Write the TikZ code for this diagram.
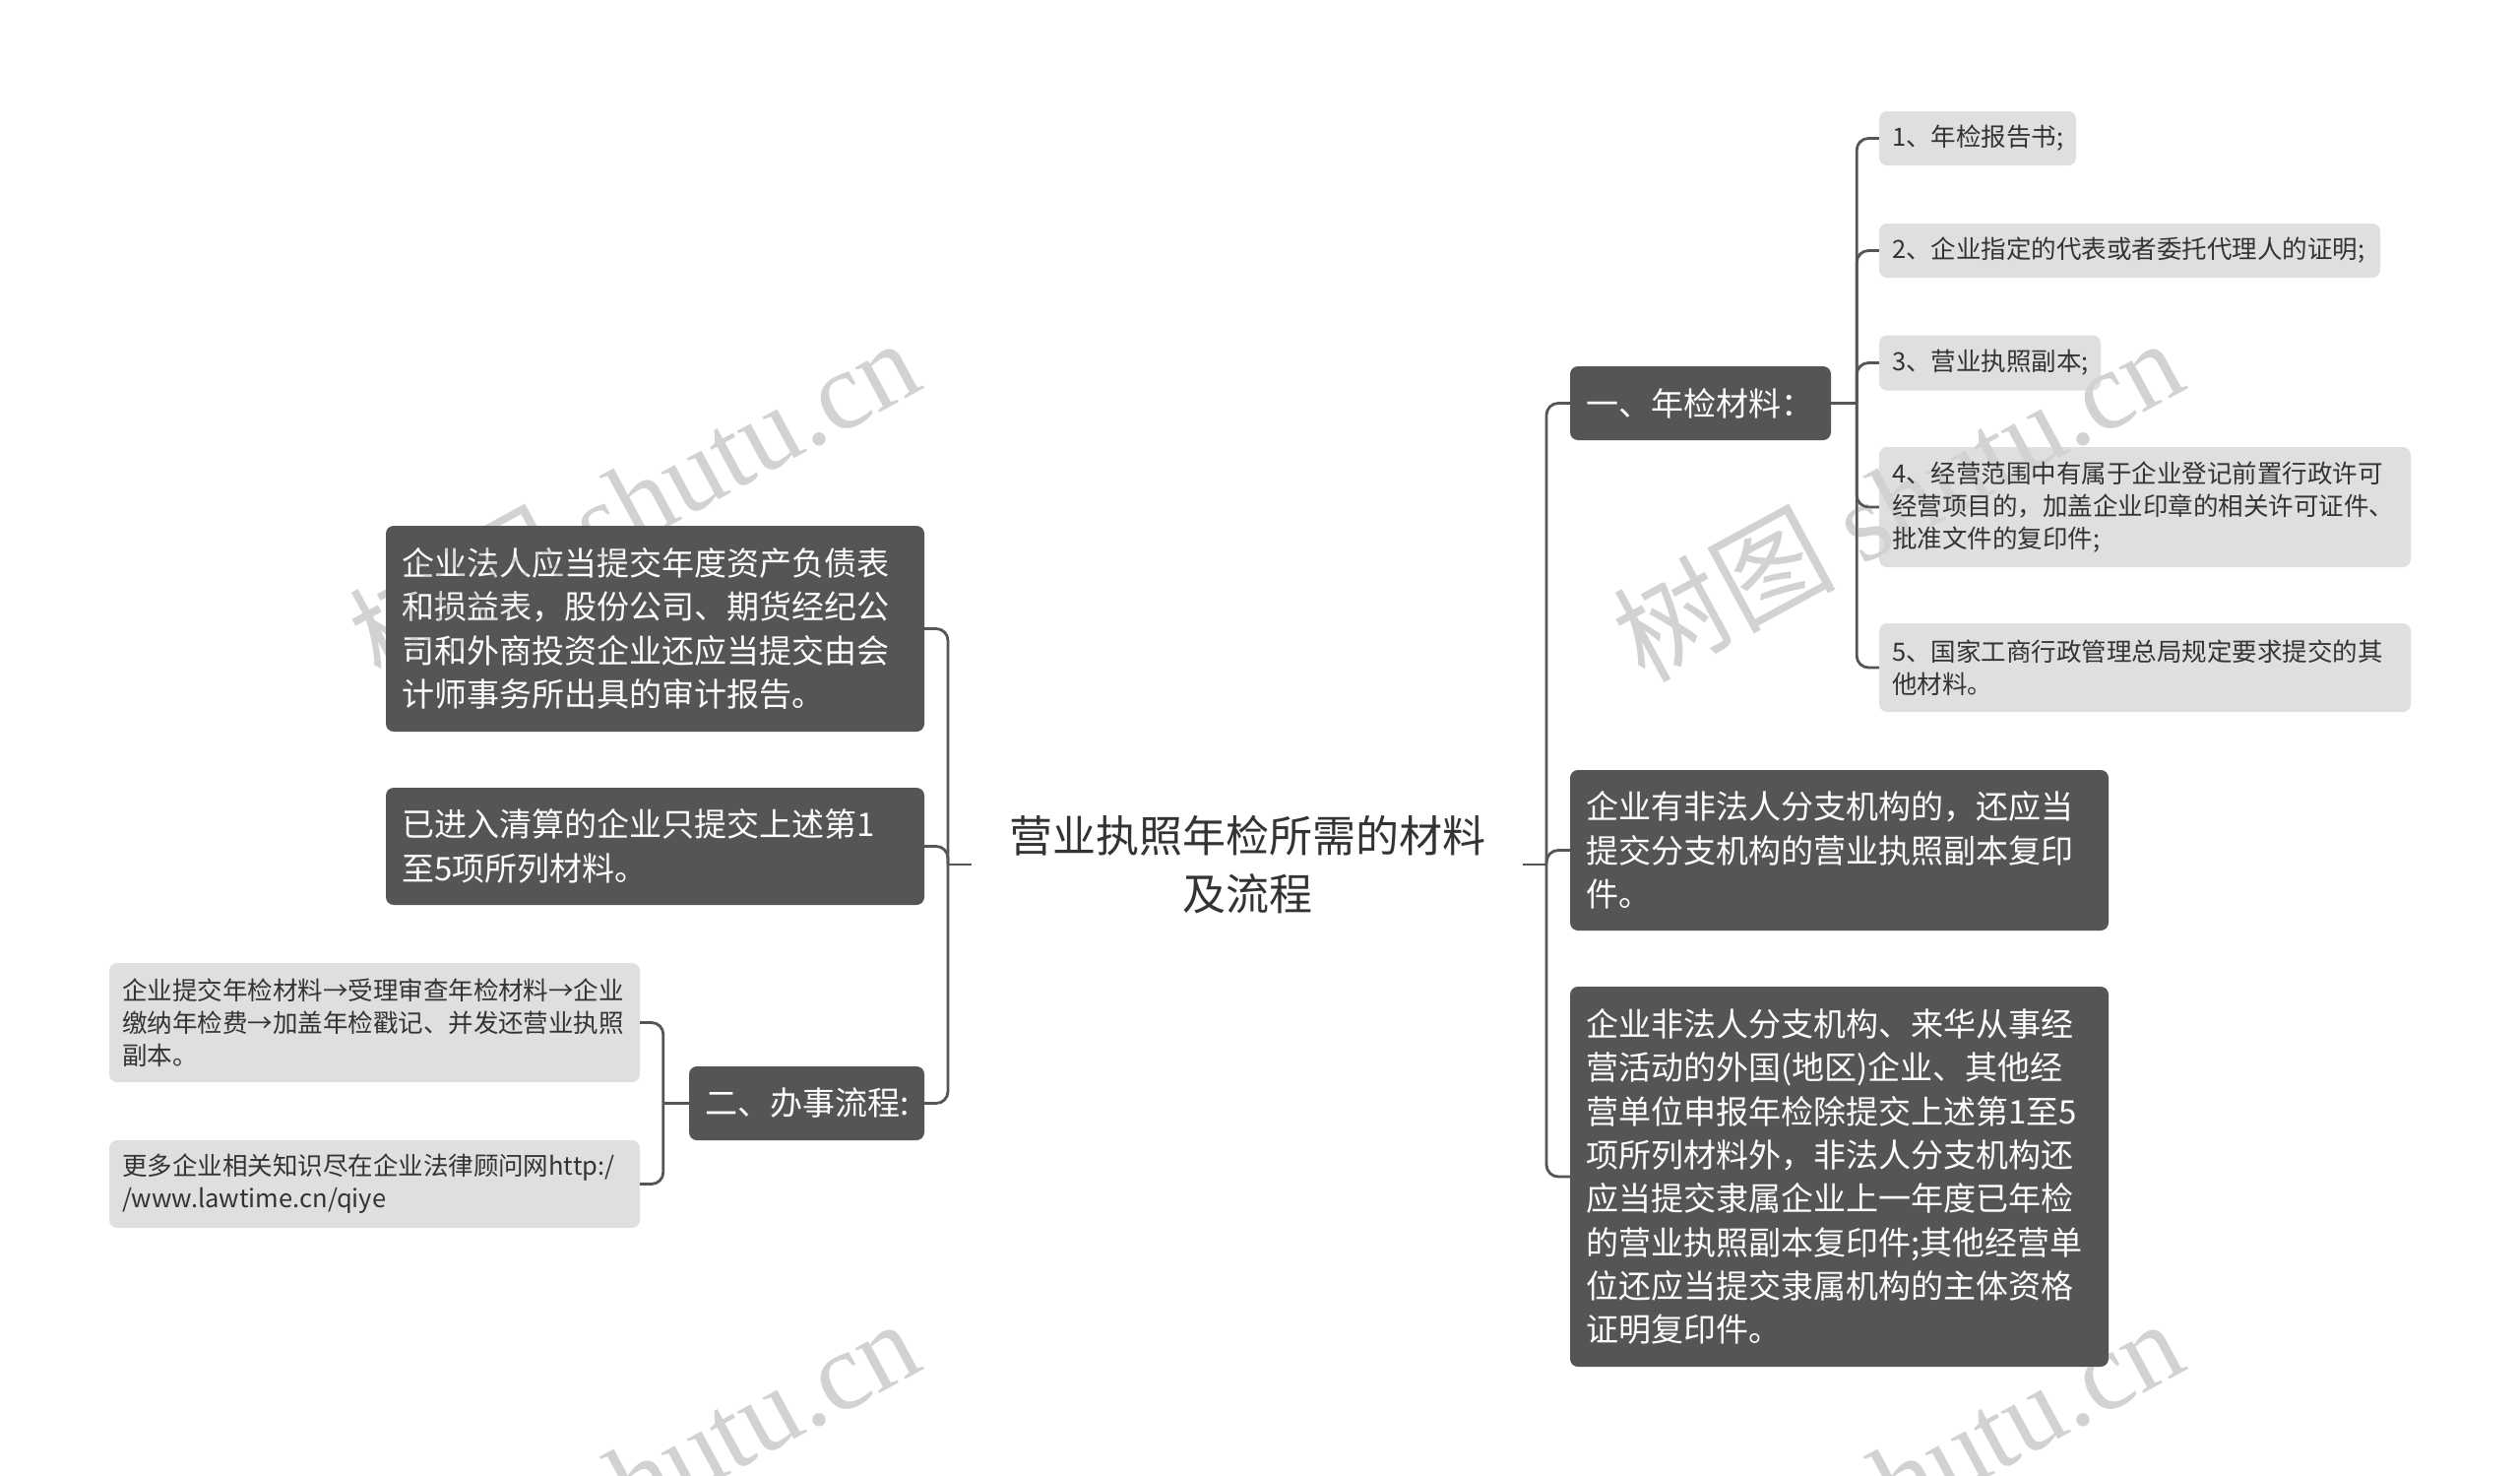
\documentclass[tikz,border=0pt]{standalone}
\usepackage{fontspec}
\setmainfont{Noto Sans CJK SC}
\newfontfamily\wmlatin{Liberation Serif}
\newfontfamily\wmcjk{Noto Sans CJK SC}
\definecolor{darkbox}{HTML}{555555}
\definecolor{lightbox}{HTML}{DFDFDF}
\definecolor{linec}{HTML}{555555}
\definecolor{txt}{HTML}{333333}
\definecolor{wm}{HTML}{D2D2D2}
\tikzset{
 darknode/.style={fill=darkbox, rounded corners=8pt, text=white, align=left, inner xsep=16pt, inner ysep=0pt, font=\fontsize{33pt}{44.3pt}\selectfont},
 lightnode/.style={fill=lightbox, rounded corners=8pt, text=txt, align=left, inner xsep=13pt, inner ysep=0pt, font=\fontsize{25.5pt}{33pt}\selectfont},
 conn/.style={draw=linec, line width=2.8pt, rounded corners=12pt},
 wmark/.style={text=wm, rotate=28.5, font=\fontsize{113pt}{113pt}\selectfont, inner sep=0pt}
}
\begin{document}
\begin{tikzpicture}[x=1pt,y=-1pt]
\useasboundingbox (0,0) rectangle (2560,1499);
\fill[white] (0,0) rectangle (2560,1499);

% root
\node[text=txt, align=center, text width=500pt, inner xsep=30pt, inner ysep=0pt, font=\fontsize{44pt}{59pt}\selectfont] (root) at (1267,878) {营业执照年检所需的材料\\及流程};

% right side
\node[darknode, text width=233pt, minimum height=75pt] (b1) at (1727.5,409.5) {一、年检材料：};
\node[darknode, text width=515pt, minimum height=163pt] (b2) at (1868.5,863.5) {企业有非法人分支机构的，还应当\\提交分支机构的营业执照副本复印\\件。};
\node[darknode, text width=515pt, minimum height=386pt] (b3) at (1868.5,1195) {企业非法人分支机构、来华从事经\\营活动的外国(地区)企业、其他经\\营单位申报年检除提交上述第1至5\\项所列材料外，非法人分支机构还\\应当提交隶属企业上一年度已年检\\的营业执照副本复印件;其他经营单\\位还应当提交隶属机构的主体资格\\证明复印件。};

\node[lightnode, text width=174pt, minimum height=55pt] (l1) at (2009,140.5) {1、年检报告书;};
\node[lightnode, text width=483pt, minimum height=55pt] (l2) at (2163.5,254.5) {2、企业指定的代表或者委托代理人的证明;};
\node[lightnode, text width=199pt, minimum height=56pt] (l3) at (2021.5,368.5) {3、营业执照副本;};
\node[lightnode, text width=514pt, minimum height=122pt] (l4) at (2179,515) {4、经营范围中有属于企业登记前置行政许可\\经营项目的，加盖企业印章的相关许可证件、\\批准文件的复印件;};
\node[lightnode, text width=514pt, minimum height=90pt] (l5) at (2179,678) {5、国家工商行政管理总局规定要求提交的其\\他材料。};

% left side
\node[darknode, text width=515pt, minimum height=209pt] (a1) at (665.5,638.5) {企业法人应当提交年度资产负债表\\和损益表，股份公司、期货经纪公\\司和外商投资企业还应当提交由会\\计师事务所出具的审计报告。};
\node[darknode, text width=515pt, minimum height=119pt] (a2) at (665.5,859.5) {已进入清算的企业只提交上述第1\\至5项所列材料。};
\node[darknode, text width=207pt, minimum height=75pt] (a3) at (819.5,1120.5) {二、办事流程:};

\node[lightnode, text width=513pt, minimum height=121pt] (c1) at (380.5,1038.5) {企业提交年检材料→受理审查年检材料→企业\\缴纳年检费→加盖年检戳记、并发还营业执照\\副本。};
\node[lightnode, text width=513pt, minimum height=89pt] (c2) at (380.5,1202.5) {更多企业相关知识尽在企业法律顾问网http:/\\/www.lawtime.cn/qiye};

% connectors
\coordinate (rj) at (1571,878);
\coordinate (lj) at (963,878);
\draw[conn] (root.east) -- (rj);
\draw[conn] (root.west) -- (lj);
\draw[conn] (rj) |- (b1.west);
\draw[conn] (rj) |- (b2.west);
\draw[conn] (rj) |- (b3.west);
\draw[conn] (lj) |- (a1.east);
\draw[conn] (lj) |- (a2.east);
\draw[conn] (lj) |- (a3.east);

\draw[conn] (b1.east) -- ++(26,0) coordinate (bj);
\draw[conn] (bj) |- (l1.west);
\draw[conn] (bj) |- (l2.west);
\draw[conn] (bj) |- (l3.west);
\draw[conn] (bj) |- (l4.west);
\draw[conn] (bj) |- (l5.west);

\draw[conn] (a3.west) -- ++(-26,0) coordinate (aj);
\draw[conn] (aj) |- (c1.east);
\draw[conn] (aj) |- (c2.east);

% watermarks
\begin{scope}[blend mode=darken]
\clip (0,0) rectangle (2560,1499);
\node[wmark] (wm1) at (643,506) {{\wmcjk 树图} {\wmlatin shutu.cn}};
\node[wmark] (wm2) at (1927,506) {{\wmcjk 树图} {\wmlatin shutu.cn}};
\node[wmark] (wm3) at (643,1502) {{\wmcjk 树图} {\wmlatin shutu.cn}};
\node[wmark] (wm4) at (1927,1502) {{\wmcjk 树图} {\wmlatin shutu.cn}};
\end{scope}
\end{tikzpicture}
\end{document}
